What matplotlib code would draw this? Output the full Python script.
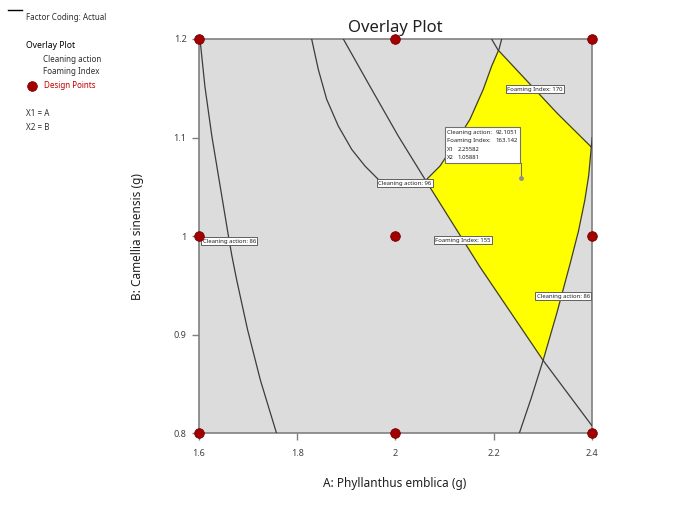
import numpy as np
import matplotlib
matplotlib.use("Agg")
import matplotlib.pyplot as plt
from matplotlib.patches import Rectangle
from matplotlib.lines import Line2D
from matplotlib.transforms import ScaledTranslation

plt.rcParams['font.family'] = ['Noto Sans', 'DejaVu Sans']

# ---------------- data ----------------
x_ticks = [1.6, 1.8, 2.0, 2.2, 2.4]
x_tick_labels = ["1.6", "1.8", "2", "2.2", "2.4"]
y_ticks = [0.8, 0.9, 1.0, 1.1, 1.2]
y_tick_labels = ["0.8", "0.9", "1", "1.1", "1.2"]

# design points (A, B)
design_a = [1.6, 2.0, 2.4, 1.6, 2.0, 2.4, 1.6, 2.0, 2.4]
design_b = [1.2, 1.2, 1.2, 1.0, 1.0, 1.0, 0.8, 0.8, 0.8]

# contour: Cleaning action 86 (left branch)
c86l_x = [1.602, 1.612, 1.626, 1.643, 1.660, 1.667, 1.677, 1.699, 1.725, 1.758]
c86l_y = [1.200, 1.152, 1.102, 1.051, 1.000, 0.980, 0.955, 0.905, 0.854, 0.800]

# contour: Cleaning action 86 (right branch)
c86r_x = [2.2525, 2.277, 2.301, 2.329, 2.356, 2.373, 2.386, 2.394, 2.398, 2.401]
c86r_y = [0.800, 0.836, 0.874, 0.922, 0.972, 1.005, 1.0365, 1.062, 1.084, 1.100]

# contour: Cleaning action 96
c96_x = [1.8296, 1.8430, 1.8601, 1.8838, 1.9111, 1.9382, 1.9652, 1.990, 2.015,
         2.040, 2.0638, 2.0909, 2.1180, 2.1520, 2.1791, 2.1963, 2.2111, 2.2166]
c96_y = [1.1997, 1.1692, 1.1388, 1.1117, 1.0880, 1.0711, 1.0576, 1.0545, 1.0535,
         1.0548, 1.0576, 1.0711, 1.0914, 1.1185, 1.1489, 1.1726, 1.1895, 1.2000]

# contour: Foaming Index 155
f155_x = [1.894, 1.9518, 2.006, 2.0604, 2.172, 2.301, 2.400]
f155_y = [1.200, 1.1489, 1.1015, 1.0576, 0.969, 0.874, 0.808]

# contour: Foaming Index 170
f170_x = [2.196, 2.209, 2.269, 2.329, 2.400]
f170_y = [1.200, 1.189, 1.157, 1.125, 1.090]

# flag point
flag_x1 = 2.25582
flag_x2 = 1.05881
flag_cleaning = "92.1051"
flag_foaming = "163.142"

# ---------------- figure ----------------
W, H = 675, 524
fig = plt.figure(figsize=(W / 100, H / 100), dpi=100)
ax = fig.add_axes([199 / W, 1 - 433.3 / H, (591.7 - 199) / W, (433.3 - 39) / H])
ax.set_facecolor('#dcdcdc')
ax.set_xlim(1.6, 2.4)
ax.set_ylim(0.8, 1.2)

# yellow sweet-spot region from the contour boundaries
gx = np.linspace(1.6, 2.4, 1400)
gy = np.linspace(0.8, 1.2, 1400)
GX, GY = np.meshgrid(gx, gy)
xF155 = np.interp(GY, f155_y[::-1], f155_x[::-1])
xF170 = np.interp(GY, f170_y[::-1], f170_x[::-1])
xC86r = np.interp(GY, c86r_y, c86r_x)
yC96 = np.interp(GX, c96_x, c96_y)
mask = (GX > xF155) & (GX < xC86r) & (GX < xF170) & (GY < yC96)
ax.contourf(GX, GY, mask.astype(float), levels=[0.5, 1.5], colors=['#ffff00'])

line_kw = dict(color='#3c3c3c', lw=0.9, zorder=3, solid_joinstyle='round')
for cx, cy in [(c86l_x, c86l_y), (c86r_x, c86r_y), (c96_x, c96_y),
               (f155_x, f155_y), (f170_x, f170_y)]:
    ax.plot(cx, cy, **line_kw)

# contour labels placed on the curves
lab_kw = dict(fontsize=4.3, ha='center', va='center', color='#202020', zorder=5,
              bbox=dict(boxstyle='square,pad=0.25', fc='white', ec='#606060', lw=0.7))
y_lab = 0.995
ax.text(np.interp(y_lab, c86l_y[::-1], c86l_x[::-1]), y_lab, "Cleaning action: 86", **lab_kw)
x_lab = 2.02
ax.text(x_lab, np.interp(x_lab, c96_x, c96_y), "Cleaning action: 96", **lab_kw)
y_lab = 0.996
ax.text(np.interp(y_lab, f155_y[::-1], f155_x[::-1]), y_lab, "Foaming Index: 155", **lab_kw)
y_lab = 1.149
ax.text(np.interp(y_lab, f170_y[::-1], f170_x[::-1]), y_lab, "Foaming Index: 170", **lab_kw)
y_lab = 0.939
ax.text(np.interp(y_lab, c86r_y, c86r_x) + 0.004, y_lab, "Cleaning action: 86", **lab_kw)

# design points
ax.scatter(design_a, design_b, s=48, color='#a50000', edgecolors='#700000',
           linewidths=0.6, zorder=6, clip_on=False)

# flag
t = fig.dpi_scale_trans + ScaledTranslation(flag_x1, flag_x2, ax.transData)
ax.add_patch(Rectangle((-0.759, 0.148), 0.75, 0.36, transform=t, fc='white',
                       ec='#707070', lw=0.8, zorder=7, clip_on=False))
ax.add_line(Line2D([0, 0], [0, 0.148], transform=t, color='#707070', lw=0.8, zorder=7))
ax.plot([flag_x1], [flag_x2], 'o', ms=2.5, color='#909090', zorder=8)
ftxt = dict(fontsize=4.3, color='#202020', va='center', transform=t, zorder=8)
ax.text(-0.736, 0.458, "Cleaning action:", ha='left', **ftxt)
ax.text(-0.026, 0.458, flag_cleaning, ha='right', **ftxt)
ax.text(-0.736, 0.374, "Foaming Index:", ha='left', **ftxt)
ax.text(-0.026, 0.374, flag_foaming, ha='right', **ftxt)
ax.text(-0.736, 0.288, "X1", ha='left', **ftxt)
ax.text(-0.636, 0.288, f"{flag_x1}", ha='left', **ftxt)
ax.text(-0.736, 0.204, "X2", ha='left', **ftxt)
ax.text(-0.636, 0.204, f"{flag_x2}", ha='left', **ftxt)

# axes styling
for sp in ax.spines.values():
    sp.set_color('#808080')
    sp.set_linewidth(1.2)
ax.set_xticks(x_ticks)
ax.set_xticklabels(x_tick_labels)
ax.set_yticks(y_ticks)
ax.set_yticklabels(y_tick_labels)
ax.tick_params(direction='out', length=5, width=1, color='#808080',
               labelsize=6.5, labelcolor='#404040', pad=4)
ax.tick_params(axis='x', pad=6)

ax.set_title("Overlay Plot", fontsize=12, color='#202020', pad=5)
fig.text(395 / W, 1 - 483 / H, "A: Phyllanthus emblica (g)", fontsize=8.5,
         color='#202020', ha='center', va='center')
fig.text(137 / W, 1 - 237 / H, "B: Camellia sinensis (g)", fontsize=8.5,
         color='#202020', ha='center', va='center', rotation=90)

# left-hand legend panel
fig.add_artist(Line2D([8 / W, 22 / W], [1 - 10 / H, 1 - 10 / H], color='black', lw=1))
ptxt = dict(fontsize=5.8, color='#303030', va='center', ha='left')
fig.text(26 / W, 1 - 17 / H, "Factor Coding: Actual", **ptxt)
fig.text(26 / W, 1 - 45 / H, "Overlay Plot", fontweight='bold',
         **{**ptxt, 'color': 'black', 'fontsize': 6.2})
fig.text(43 / W, 1 - 59 / H, "Cleaning action", **ptxt)
fig.text(43 / W, 1 - 72 / H, "Foaming Index", **ptxt)
fig.add_artist(Line2D([32 / W], [1 - 86 / H], marker='o', ms=7, color='#a50000',
                      markeredgecolor='#700000', markeredgewidth=0.5))
fig.text(44 / W, 1 - 86 / H, "Design Points", **{**ptxt, 'color': '#c00000'})
fig.text(26 / W, 1 - 114 / H, "X1 = A", **ptxt)
fig.text(26 / W, 1 - 127 / H, "X2 = B", **ptxt)

fig.savefig("out.png", dpi=100)
